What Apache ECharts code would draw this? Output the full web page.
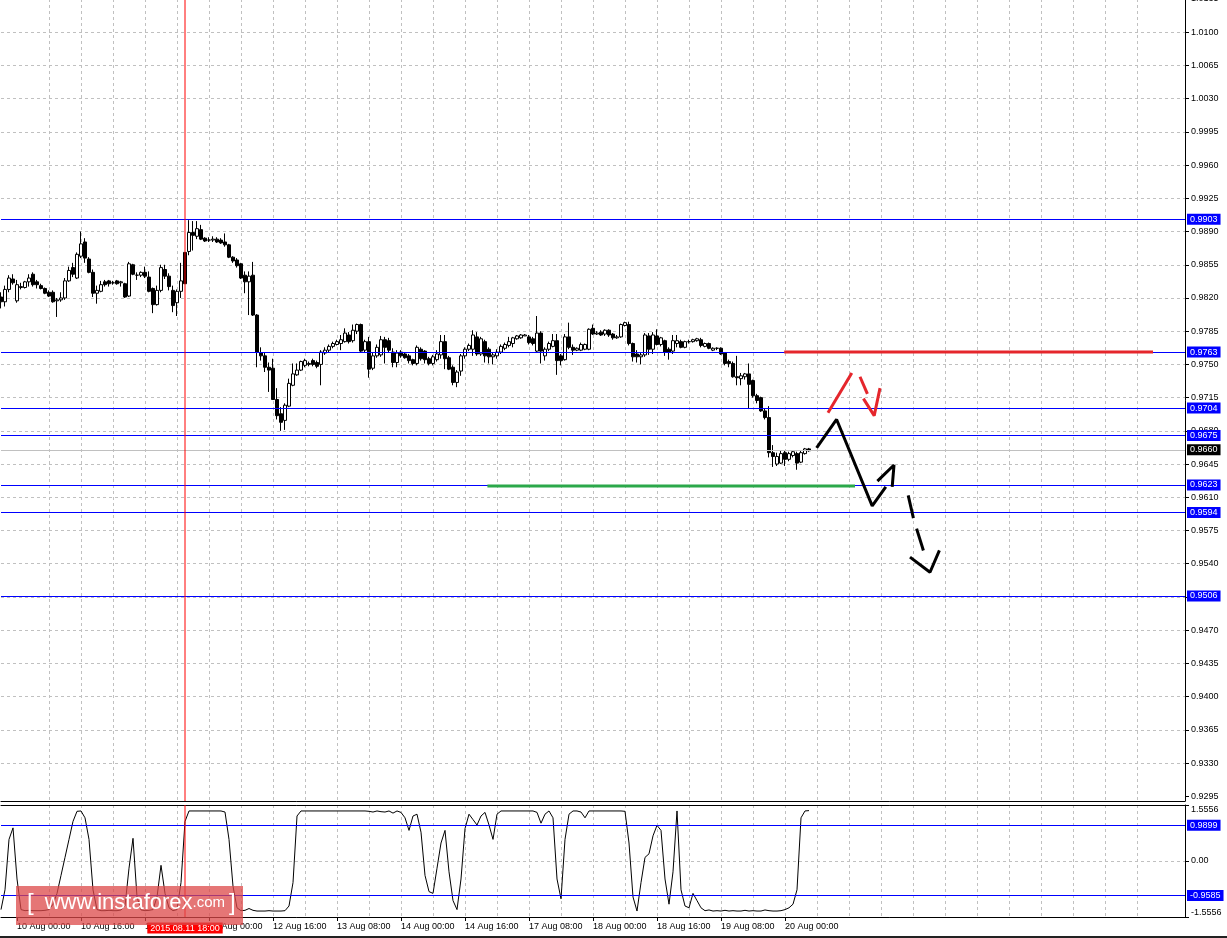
<!DOCTYPE html>
<html>
<head>
<meta charset="utf-8">
<title>USDCHF H1</title>
<script src="https://cdn.jsdelivr.net/npm/echarts@6/dist/echarts.min.js"></script>
<style>
html, body { margin: 0; padding: 0; background: #fff; }
#chart { width: 1227px; height: 938px; }
</style>
</head>
<body>
<div id="chart"></div>
<script>
// H1 bars [open, close, low, high], first bar = 07 Aug 20:00
const candles = [
  [0.9821,0.9816,0.9809,0.9826],[0.9816,0.9829,0.9811,0.9833],[0.9829,0.9841,0.9826,0.9844],[0.9840,0.9836,0.9834,0.9845],[0.9817,0.9834,0.9815,0.9839],
  [0.9831,0.9832,0.9829,0.9836],[0.9831,0.9837,0.9830,0.9838],[0.9837,0.9841,0.9832,0.9845],[0.9845,0.9834,0.9832,0.9847],[0.9837,0.9834,0.9830,0.9839],
  [0.9833,0.9830,0.9829,0.9835],[0.9830,0.9825,0.9824,0.9831],[0.9826,0.9822,0.9821,0.9828],[0.9826,0.9816,0.9815,0.9828],[0.9817,0.9818,0.9800,0.9820],
  [0.9818,0.9820,0.9816,0.9826],[0.9820,0.9838,0.9818,0.9841],[0.9838,0.9849,0.9837,0.9853],[0.9852,0.9845,0.9842,0.9857],[0.9841,0.9866,0.9840,0.9868],
  [0.9864,0.9877,0.9862,0.9890],[0.9879,0.9862,0.9857,0.9883],[0.9861,0.9847,0.9846,0.9863],[0.9847,0.9825,0.9821,0.9850],[0.9825,0.9828,0.9814,0.9833],
  [0.9827,0.9834,0.9826,0.9838],[0.9837,0.9834,0.9832,0.9839],[0.9838,0.9835,0.9832,0.9839],[0.9836,0.9836,0.9834,0.9838],[0.9838,0.9835,0.9834,0.9839],
  [0.9836,0.9837,0.9832,0.9838],[0.9835,0.9821,0.9820,0.9836],[0.9822,0.9856,0.9821,0.9858],[0.9855,0.9845,0.9844,0.9856],[0.9844,0.9844,0.9839,0.9847],
  [0.9844,0.9847,0.9842,0.9848],[0.9847,0.9843,0.9841,0.9853],[0.9842,0.9827,0.9826,0.9848],[0.9830,0.9813,0.9804,0.9831],[0.9813,0.9828,0.9812,0.9833],
  [0.9828,0.9852,0.9826,0.9855],[0.9850,0.9843,0.9840,0.9855],[0.9843,0.9832,0.9828,0.9846],[0.9828,0.9812,0.9805,0.9833],[0.9815,0.9827,0.9801,0.9829],
  [0.9827,0.9838,0.9820,0.9857],[0.9868,0.9835,0.9835,0.9868],[0.9869,0.9889,0.9865,0.9902],[0.9889,0.9886,0.9870,0.9901],[0.9885,0.9893,0.9882,0.9901],
  [0.9892,0.9882,0.9881,0.9897],[0.9883,0.9880,0.9879,0.9884],[0.9881,0.9881,0.9879,0.9884],[0.9881,0.9882,0.9879,0.9885],[0.9882,0.9879,0.9878,0.9884],
  [0.9881,0.9878,0.9877,0.9883],[0.9879,0.9876,0.9874,0.9888],[0.9876,0.9863,0.9862,0.9877],[0.9863,0.9859,0.9857,0.9864],[0.9860,0.9854,0.9852,0.9862],
  [0.9856,0.9841,0.9840,0.9857],[0.9844,0.9837,0.9825,0.9848],[0.9837,0.9843,0.9802,0.9848],[0.9844,0.9802,0.9801,0.9858],[0.9802,0.9763,0.9747,0.9803],
  [0.9762,0.9759,0.9754,0.9768],[0.9759,0.9747,0.9742,0.9762],[0.9747,0.9744,0.9721,0.9752],[0.9746,0.9713,0.9713,0.9756],[0.9713,0.9696,0.9692,0.9725],
  [0.9698,0.9689,0.9680,0.9705],[0.9691,0.9707,0.9681,0.9709],[0.9706,0.9730,0.9705,0.9735],[0.9728,0.9740,0.9727,0.9751],[0.9739,0.9744,0.9738,0.9751],
  [0.9744,0.9753,0.9743,0.9754],[0.9749,0.9754,0.9747,0.9756],[0.9750,0.9751,0.9748,0.9753],[0.9754,0.9750,0.9748,0.9756],[0.9752,0.9748,0.9746,0.9754],
  [0.9750,0.9763,0.9728,0.9765],[0.9762,0.9765,0.9760,0.9768],[0.9765,0.9769,0.9763,0.9771],[0.9769,0.9772,0.9767,0.9774],[0.9771,0.9774,0.9770,0.9776],
  [0.9772,0.9776,0.9765,0.9781],[0.9774,0.9783,0.9773,0.9788],[0.9781,0.9774,0.9772,0.9784],[0.9775,0.9786,0.9773,0.9792],[0.9785,0.9792,0.9782,0.9793],
  [0.9792,0.9764,0.9763,0.9793],[0.9765,0.9774,0.9762,0.9776],[0.9774,0.9745,0.9736,0.9779],[0.9746,0.9759,0.9744,0.9762],[0.9759,0.9768,0.9757,0.9771],
  [0.9760,0.9776,0.9758,0.9780],[0.9776,0.9768,0.9751,0.9779],[0.9775,0.9765,0.9763,0.9778],[0.9763,0.9752,0.9747,0.9767],[0.9752,0.9762,0.9747,0.9765],
  [0.9763,0.9759,0.9757,0.9765],[0.9761,0.9757,0.9756,0.9763],[0.9759,0.9754,0.9751,0.9761],[0.9755,0.9751,0.9749,0.9756],[0.9751,0.9768,0.9749,0.9770],
  [0.9766,0.9756,0.9754,0.9768],[0.9764,0.9755,0.9751,0.9765],[0.9756,0.9751,0.9749,0.9758],[0.9751,0.9758,0.9749,0.9760],[0.9755,0.9761,0.9753,0.9765],
  [0.9760,0.9774,0.9756,0.9781],[0.9774,0.9756,0.9745,0.9781],[0.9757,0.9745,0.9744,0.9759],[0.9747,0.9731,0.9728,0.9749],[0.9731,0.9742,0.9726,0.9744],
  [0.9743,0.9759,0.9738,0.9761],[0.9759,0.9766,0.9756,0.9768],[0.9766,0.9770,0.9764,0.9772],[0.9766,0.9781,0.9759,0.9786],[0.9779,0.9761,0.9759,0.9784],
  [0.9761,0.9777,0.9759,0.9779],[0.9774,0.9759,0.9752,0.9776],[0.9766,0.9758,0.9751,0.9768],[0.9758,0.9760,0.9750,0.9762],[0.9759,0.9763,0.9756,0.9766],
  [0.9763,0.9769,0.9761,0.9771],[0.9767,0.9771,0.9765,0.9773],[0.9770,0.9774,0.9768,0.9779],[0.9772,0.9778,0.9768,0.9779],[0.9777,0.9780,0.9776,0.9781],
  [0.9778,0.9781,0.9777,0.9782],[0.9780,0.9781,0.9780,0.9782],[0.9779,0.9773,0.9771,0.9781],[0.9777,0.9772,0.9770,0.9779],[0.9764,0.9783,0.9762,0.9801],
  [0.9783,0.9764,0.9751,0.9785],[0.9759,0.9766,0.9754,0.9768],[0.9766,0.9772,0.9764,0.9774],[0.9769,0.9775,0.9768,0.9782],[0.9775,0.9754,0.9739,0.9782],
  [0.9759,0.9754,0.9749,0.9761],[0.9755,0.9779,0.9754,0.9782],[0.9779,0.9768,0.9766,0.9794],[0.9768,0.9765,0.9760,0.9771],[0.9765,0.9767,0.9764,0.9768],
  [0.9765,0.9771,0.9764,0.9773],[0.9766,0.9771,0.9765,0.9772],[0.9766,0.9787,0.9765,0.9788],[0.9788,0.9782,0.9781,0.9792],[0.9782,0.9783,0.9781,0.9785],
  [0.9784,0.9781,0.9780,0.9786],[0.9782,0.9786,0.9780,0.9787],[0.9786,0.9781,0.9779,0.9787],[0.9782,0.9778,0.9776,0.9783],[0.9778,0.9779,0.9777,0.9781],
  [0.9779,0.9792,0.9778,0.9793],[0.9791,0.9794,0.9790,0.9795],[0.9792,0.9772,0.9770,0.9795],[0.9772,0.9758,0.9753,0.9773],[0.9761,0.9758,0.9752,0.9765],
  [0.9758,0.9760,0.9750,0.9763],[0.9760,0.9781,0.9758,0.9783],[0.9780,0.9766,0.9760,0.9783],[0.9766,0.9781,0.9761,0.9784],[0.9780,0.9771,0.9770,0.9787],
  [0.9771,0.9778,0.9769,0.9779],[0.9775,0.9763,0.9759,0.9776],[0.9766,0.9763,0.9755,0.9768],[0.9764,0.9775,0.9761,0.9781],[0.9772,0.9775,0.9768,0.9781],
  [0.9774,0.9768,0.9767,0.9776],[0.9768,0.9774,0.9767,0.9775],[0.9774,0.9774,0.9772,0.9776],[0.9774,0.9776,0.9773,0.9777],[0.9775,0.9777,0.9774,0.9778],
  [0.9776,0.9770,0.9768,0.9778],[0.9769,0.9772,0.9768,0.9773],[0.9772,0.9767,0.9766,0.9773],[0.9765,0.9767,0.9764,0.9768],[0.9767,0.9767,0.9765,0.9768],
  [0.9767,0.9761,0.9760,0.9768],[0.9762,0.9751,0.9749,0.9763],[0.9753,0.9751,0.9747,0.9755],[0.9751,0.9737,0.9736,0.9753],[0.9737,0.9736,0.9728,0.9759],
  [0.9735,0.9738,0.9728,0.9741],[0.9737,0.9740,0.9734,0.9741],[0.9740,0.9729,0.9703,0.9751],[0.9733,0.9717,0.9715,0.9734],[0.9717,0.9712,0.9709,0.9719],
  [0.9715,0.9701,0.9700,0.9716],[0.9701,0.9694,0.9692,0.9703],[0.9694,0.9657,0.9652,0.9706],[0.9657,0.9653,0.9642,0.9665],[0.9645,0.9653,0.9643,0.9657],
  [0.9646,0.9656,0.9645,0.9659],[0.9657,0.9650,0.9643,0.9659],[0.9650,0.9656,0.9648,0.9658],[0.9654,0.9658,0.9652,0.9659],[0.9656,0.9646,0.9639,0.9658],
  [0.9647,0.9657,0.9646,0.9659],[0.9656,0.9661,0.9655,0.9662],[0.9661,0.9659,0.9658,0.9662]
];

// oscillator, one value per bar
const osc = [
  -1.35,-0.80,0.60,0.92,-0.50,-1.35,-1.38,-1.37,-1.38,-1.38,
  -1.38,-1.37,-1.35,-1.20,-0.90,-0.40,0.10,0.60,1.10,1.38,
  1.39,1.20,0.60,-0.80,-1.35,-1.38,-1.38,-1.37,-1.38,-1.38,
  -1.36,-1.25,-0.20,0.63,-1.00,-1.36,-1.38,-1.37,-1.35,-1.00,
  -0.12,-0.90,-1.30,-1.38,-1.35,-0.60,1.10,1.39,1.39,1.39,
  1.39,1.39,1.39,1.39,1.39,1.39,1.36,0.60,-0.70,-1.30,
  -1.38,-1.37,-1.32,-1.37,-1.39,-1.39,-1.39,-1.38,-1.39,-1.39,
  -1.39,-1.38,-1.25,-0.60,1.25,1.39,1.39,1.39,1.39,1.39,
  1.39,1.39,1.39,1.39,1.39,1.39,1.39,1.39,1.39,1.39,
  1.39,1.39,1.38,1.36,1.39,1.37,1.36,1.39,1.33,1.39,
  1.35,1.20,0.85,1.25,1.30,0.80,-0.40,-0.85,-0.90,-0.20,
  0.50,0.85,-0.30,-1.10,-1.35,-0.50,0.90,1.30,1.15,1.00,
  1.25,1.35,1.00,0.60,1.30,1.39,1.39,1.39,1.39,1.39,
  1.39,1.39,1.39,1.39,1.35,1.05,1.30,1.39,1.20,-0.50,
  -1.05,0.60,1.30,1.39,1.39,1.36,1.20,1.39,1.39,1.39,
  1.39,1.39,1.39,1.39,1.39,1.39,1.38,0.50,-1.00,-1.39,
  -0.60,0.10,0.20,0.70,0.99,0.85,-0.50,-1.20,-0.30,1.39,
  -0.80,-1.25,-1.30,-0.90,-1.10,-1.30,-1.38,-1.36,-1.39,-1.38,
  -1.39,-1.37,-1.39,-1.38,-1.39,-1.39,-1.37,-1.39,-1.38,-1.39,
  -1.39,-1.36,-1.38,-1.39,-1.39,-1.38,-1.35,-1.30,-1.20,-0.80,
  1.20,1.39,1.40
];

const timeLabels = ['10 Aug 00:00', '10 Aug 16:00', '11 Aug 08:00', '12 Aug 00:00', '12 Aug 16:00',
  '13 Aug 08:00', '14 Aug 00:00', '14 Aug 16:00', '17 Aug 08:00', '18 Aug 00:00', '18 Aug 16:00',
  '19 Aug 08:00', '20 Aug 00:00'];
const priceTicks = [1.0135, 1.0100, 1.0065, 1.0030, 0.9995, 0.9960, 0.9925, 0.9890, 0.9855, 0.9820,
  0.9785, 0.9750, 0.9715, 0.9680, 0.9645, 0.9610, 0.9575, 0.9540, 0.9505, 0.9470, 0.9435, 0.9400,
  0.9365, 0.9330, 0.9295];
const priceMin = 0.9290;
const priceMax = 1.0135;
const levels = [0.9903, 0.9763, 0.9704, 0.9675, 0.9623, 0.9594, 0.9506];
const lastPrice = 0.9660;
const oscTicks = [-1.5556, 0, 1.5556];
const oscLevels = [0.9899, -0.9585];
const markerBar = 46;
const markerText = '2015.08.11 18:00';

// drawn objects, [bar, price]
const redLevel = [[195.8, 0.9763], [288, 0.9763]];
const greenLevel = [[121.6, 0.9622], [213.5, 0.9622]];
const blackPath = [[203.9, 0.9662], [208.9, 0.9692], [217.8, 0.9601], [221.2, 0.9621]];
const blackHead = [[219.1, 0.9627], [223.25, 0.9644], [222.8, 0.9621]];
const redPath = [[206.75, 0.9699], [212.7, 0.9741]];
const redDash = [[214.75, 0.9737], [216.6, 0.9719]];
const redHead = [[215.6, 0.9714], [218.3, 0.9696], [219.75, 0.9725]];
const blackDash1 = [[226.8, 0.9612], [228.1, 0.9588]];
const blackDash2 = [[228.9, 0.9577], [230.6, 0.9554]];
const blackHead2 = [[227.25, 0.9547], [232.25, 0.9531], [234.6, 0.9554]];

const SLOTS = 297;
const barIds = [];
for (let i = 0; i < SLOTS; i++) barIds.push(String(i));

const FONT = 'Liberation Sans';
const gridLine = {
  show: true, showMinLine: false, showMaxLine: false,
  lineStyle: { color: '#c0c0c0', type: [3, 3], width: 1 }
};
const blackAxis = { show: true, onZero: false, lineStyle: { color: '#000', width: 1 } };
const everyEight = (i) => (i - 4) % 8 === 0;
const isLabelBar = (i) => (i - 4) % 16 === 0 && (i - 4) / 16 < timeLabels.length;

function tag(v, bg, lineColor) {
  return {
    yAxis: v,
    lineStyle: { color: lineColor, width: 1, type: 'solid' },
    label: {
      show: true, position: 'end', distance: 2, formatter: v.toFixed(4),
      backgroundColor: bg, color: '#fff', padding: [1, 3, 0, 3],
      fontFamily: FONT, fontSize: 9, lineHeight: 10
    }
  };
}

function drawn(data, color, xIdx, yIdx, width) {
  return {
    type: 'line', xAxisIndex: xIdx, yAxisIndex: yIdx, data: data,
    symbol: 'none', silent: true, z: 5,
    lineStyle: { color: color, width: width, type: 'solid' }
  };
}

// vertical marker in the indicator pane, with the red time tag under the axis
const markerLow = drawn([[markerBar, oscTicks[2]], [markerBar, oscTicks[0]]], '#ff0000', 4, 1, 1);
markerLow.z = 6;
markerLow.markPoint = {
  silent: true, symbol: 'rect', symbolSize: 1, animation: false,
  itemStyle: { color: 'rgba(0,0,0,0)' },
  data: [{
    coord: [markerBar, oscTicks[0]],
    label: {
      show: true, position: 'bottom', distance: 5, formatter: markerText,
      backgroundColor: '#ff0000', color: '#fff', padding: [1, 3, 0, 3],
      fontFamily: FONT, fontSize: 9, lineHeight: 10
    }
  }]
};

const myChart = echarts.init(document.getElementById('chart'));
const option = {
  animation: false,
  backgroundColor: '#fff',
  textStyle: { fontFamily: FONT, fontSize: 9 },
  grid: [
    { left: 1, right: 42, top: -1, height: 802, containLabel: false, outerBoundsMode: 'none' },
    { left: 1, right: 42, top: 805, height: 112, containLabel: false, outerBoundsMode: 'none' }
  ],
  xAxis: [
    {
      type: 'category', gridIndex: 0, data: barIds, boundaryGap: false, position: 'bottom',
      axisLine: blackAxis,
      axisTick: { show: false }, axisLabel: { show: false },
      splitLine: Object.assign({ interval: everyEight }, gridLine)
    },
    {
      type: 'category', gridIndex: 1, data: barIds, boundaryGap: false, position: 'bottom',
      axisLine: blackAxis,
      axisTick: { show: true, length: 4, interval: isLabelBar, lineStyle: { color: '#000' } },
      axisLabel: {
        interval: isLabelBar, align: 'left', margin: 5, color: '#000',
        fontFamily: FONT, fontSize: 9,
        formatter: (v, i) => timeLabels[(i - 4) / 16] || ''
      },
      splitLine: Object.assign({ interval: everyEight }, gridLine)
    },
    { type: 'value', gridIndex: 0, min: 0, max: SLOTS - 1, show: false },
    {
      type: 'category', gridIndex: 1, data: barIds, boundaryGap: false, position: 'top',
      axisLine: blackAxis,
      axisTick: { show: false }, axisLabel: { show: false }, splitLine: { show: false }
    },
    { type: 'value', gridIndex: 1, min: 0, max: SLOTS - 1, show: false }
  ],
  yAxis: [
    {
      type: 'value', gridIndex: 0, position: 'right', min: priceMin, max: priceMax,
      axisLine: blackAxis,
      axisTick: { show: true, length: 4, customValues: priceTicks, lineStyle: { color: '#000' } },
      axisLabel: {
        customValues: priceTicks, margin: 6, color: '#000', fontFamily: FONT, fontSize: 9,
        hideOverlap: false, formatter: (v) => v.toFixed(4)
      },
      splitLine: gridLine
    },
    {
      type: 'value', gridIndex: 1, position: 'right', min: oscTicks[0], max: oscTicks[2],
      axisLine: blackAxis,
      axisTick: { show: true, length: 4, customValues: oscTicks, lineStyle: { color: '#000' } },
      axisLabel: {
        customValues: oscTicks, margin: 6, color: '#000', fontFamily: FONT, fontSize: 9,
        verticalAlignMaxLabel: 'top', verticalAlignMinLabel: 'bottom',
        formatter: (v) => (Math.abs(v) < 1e-9 ? '0.00' : v.toFixed(4))
      },
      splitLine: { show: true, lineStyle: { color: '#c0c0c0', type: [3, 3], width: 1 } }
    }
  ],
  series: [
    {
      name: 'USDCHF,H1', type: 'candlestick', xAxisIndex: 0, yAxisIndex: 0,
      data: candles, barWidth: 3, z: 3,
      itemStyle: { color: '#fff', color0: '#000', borderColor: '#000', borderColor0: '#000', borderWidth: 1 },
      markLine: {
        silent: true, symbol: ['none', 'none'], animation: false, precision: 4,
        data: levels.map((v) => tag(v, '#0000ff', '#0000ff'))
          .concat([tag(lastPrice, '#000', '#c0c0c0')])
      }
    },
    {
      name: 'osc', type: 'line', xAxisIndex: 1, yAxisIndex: 1, data: osc,
      symbol: 'none', silent: true,
      lineStyle: { color: '#000', width: 1 },
      markLine: {
        silent: true, symbol: ['none', 'none'], animation: false, precision: 4,
        data: oscLevels.map((v) => tag(v, '#0000ff', '#0000ff'))
      }
    },
    drawn([[markerBar, priceMin], [markerBar, priceMax]], '#ff0000', 2, 0, 1),
    markerLow,
    drawn(greenLevel, '#2ba84a', 2, 0, 3),
    drawn(redLevel, '#e5262c', 2, 0, 3),
    drawn(blackPath, '#000', 2, 0, 3),
    drawn(blackHead, '#000', 2, 0, 3),
    drawn(redPath, '#e5262c', 2, 0, 3),
    drawn(redDash, '#e5262c', 2, 0, 3),
    drawn(redHead, '#e5262c', 2, 0, 3),
    drawn(blackDash1, '#000', 2, 0, 3),
    drawn(blackDash2, '#000', 2, 0, 3),
    drawn(blackHead2, '#000', 2, 0, 3)
  ],
  graphic: [
    {
      type: 'rect', left: 16, top: 886, z: 100, silent: true,
      shape: { width: 227, height: 39 },
      style: { fill: 'rgba(220,72,72,0.75)' }
    },
    {
      type: 'text', left: 27, top: 891, z: 101, silent: true,
      style: {
        text: '{b|[}{w|www.instaforex}{c|.com}{e|]}',
        rich: {
          b: { fontFamily: FONT, fontSize: 24, fill: '#fff' },
          w: { fontFamily: FONT, fontSize: 22, fill: '#fff', padding: [0, 0, 0, 11] },
          c: { fontFamily: FONT, fontSize: 15, fill: '#fff' },
          e: { fontFamily: FONT, fontSize: 24, fill: '#fff', padding: [0, 0, 0, 4] }
        }
      }
    },
    {
      type: 'rect', left: 0, top: 936, z: 100, silent: true,
      shape: { width: 1227, height: 2 },
      style: { fill: '#222' }
    }
  ]
};
myChart.setOption(option);
window.addEventListener('resize', () => { myChart.resize() });
</script>
</body>
</html>
